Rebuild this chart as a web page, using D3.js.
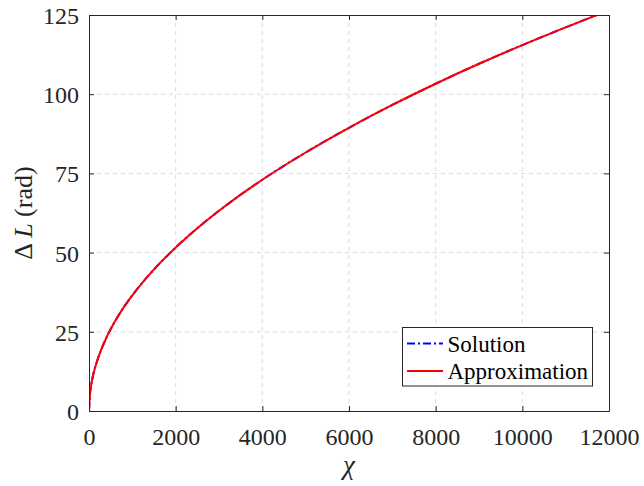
<!DOCTYPE html>
<html><head><meta charset="utf-8">
<script src="https://cdn.jsdelivr.net/npm/d3@7"></script>
<style>body{margin:0;background:#fff}svg{display:block}</style>
</head><body>
<script>
const chiValues = [0,25,50,100,200,400,600,800,1000,1500,2000,2500,3000,4000,5000,6000,7000,8000,9000,10000,11000,12000];
const solutionValues = [0,5.8,8.2,11.6,16.3,23.1,28.3,32.7,36.5,44.7,51.6,57.7,63.2,73.0,81.6,89.4,96.6,103.3,109.6,115.5,121.1,126.5];
const approximationValues = [0,5.8,8.2,11.6,16.3,23.1,28.3,32.7,36.5,44.7,51.6,57.7,63.2,73.0,81.6,89.4,96.6,103.3,109.6,115.5,121.1,126.5];
const xTicks = [0,2000,4000,6000,8000,10000,12000];
const yTicks = [0,25,50,75,100,125];
const seriesNames = ["Solution","Approximation"];

const W=644,H=486;
const L=89,R=609,T=15,B=411;
const axisColor="#262626";
const svg=d3.select("body").append("svg").attr("width",W).attr("height",H);
const x=d3.scaleLinear().domain([0,12000]).range([L,R]);
const y=d3.scaleLinear().domain([0,125]).range([B,T]);

// grid
const g=svg.append("g");
g.selectAll("line.gx").data(xTicks.slice(1,-1)).enter().append("line")
 .attr("x1",d=>x(d)).attr("x2",d=>x(d)).attr("y1",T).attr("y2",B)
 .attr("stroke","#dcdcdc").attr("stroke-width",1).attr("stroke-dasharray","4,4");
g.selectAll("line.gy").data(yTicks.slice(1,-1)).enter().append("line")
 .attr("x1",L).attr("x2",R).attr("y1",d=>y(d)).attr("y2",d=>y(d))
 .attr("stroke","#dcdcdc").attr("stroke-width",1).attr("stroke-dasharray","4,4");

// clip
svg.append("clipPath").attr("id","clip").append("rect").attr("x",L).attr("y",T).attr("width",R-L).attr("height",B-T);

const line=d3.line().x(d=>x(d[0])).y(d=>y(d[1])).curve(d3.curveMonotoneX);
const dataS=chiValues.map((c,i)=>[c,solutionValues[i]]);
const dataA=chiValues.map((c,i)=>[c,approximationValues[i]]);
svg.append("path").datum(dataS).attr("d",line).attr("fill","none").attr("stroke","#0000ff")
 .attr("stroke-width",2).attr("stroke-dasharray","8,3,2,3").attr("clip-path","url(#clip)");
svg.append("path").datum(dataA).attr("d",line).attr("fill","none").attr("stroke","#ff0000")
 .attr("stroke-width",2).attr("clip-path","url(#clip)");

// axes
const fontFam="'Liberation Serif','Times New Roman',serif";
const xAxis=d3.axisBottom(x).tickValues(xTicks).tickSize(-5).tickSizeOuter(0).tickPadding(12).tickFormat(d3.format("d"));
const yAxis=d3.axisLeft(y).tickValues(yTicks).tickSize(-5).tickSizeOuter(0).tickPadding(10).tickFormat(d3.format("d"));
const gx=svg.append("g").attr("transform",`translate(0,${B})`).call(xAxis);
const gy=svg.append("g").attr("transform",`translate(${L},0)`).call(yAxis);
const gxt=svg.append("g").attr("transform",`translate(0,${T})`).call(d3.axisTop(x).tickValues(xTicks).tickSize(-5).tickSizeOuter(0).tickFormat(""));
const gyr=svg.append("g").attr("transform",`translate(${R},0)`).call(d3.axisRight(y).tickValues(yTicks).tickSize(-5).tickSizeOuter(0).tickFormat(""));
[gx,gy,gxt,gyr].forEach(a=>{
  a.select(".domain").attr("stroke",axisColor).attr("stroke-width",1);
  a.selectAll(".tick line").attr("stroke",axisColor);
  a.selectAll(".tick text").attr("fill",axisColor).style("font-family",fontFam).style("font-size","24px");
});
gx.selectAll(".tick text").attr("dy","0.9em");
gy.selectAll(".tick text").attr("dy","0.35em");

// axis labels
svg.append("text").attr("x",(L+R)/2).attr("y",474).attr("text-anchor","middle")
 .style("font-family",fontFam).style("font-size","27px").style("font-style","italic").attr("fill",axisColor).text("χ");
const yl=svg.append("text").attr("transform",`translate(32,${(T+B)/2}) rotate(-90)`).attr("text-anchor","middle")
 .style("font-family",fontFam).style("font-size","26px").attr("fill",axisColor);
yl.append("tspan").text("Δ ");
yl.append("tspan").style("font-style","italic").text("L");
yl.append("tspan").text(" (rad)");

// legend
const lg=svg.append("g");
lg.append("rect").attr("x",402.5).attr("y",327.5).attr("width",190).attr("height",58.5)
 .attr("fill","#fff").attr("stroke",axisColor).attr("stroke-width",1);
const legendColors=["#0000ff","#ff0000"];
const legendDash=["8,3,2,3",null];
seriesNames.forEach((n,i)=>{
  const ly=343.5+i*27.5;
  lg.append("line").attr("x1",407).attr("x2",443).attr("y1",ly).attr("y2",ly)
   .attr("stroke",legendColors[i]).attr("stroke-width",2).attr("stroke-dasharray",legendDash[i]);
  lg.append("text").attr("x",447.5).attr("y",ly+8).style("font-family",fontFam).style("font-size","23px")
   .attr("fill","#000").text(n);
});
</script>
</body></html>
